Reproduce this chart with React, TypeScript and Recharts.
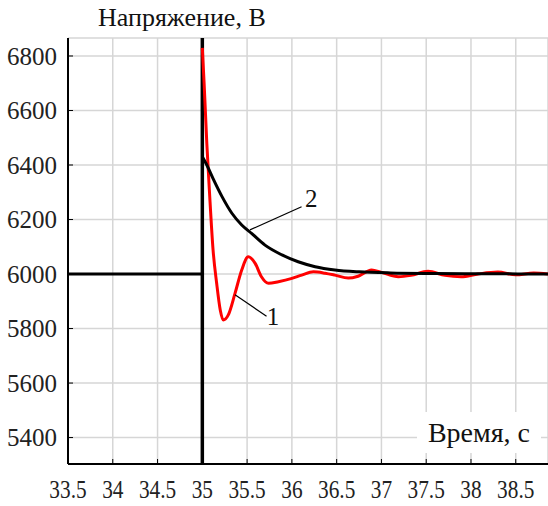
import { LineChart, Line, XAxis, YAxis, CartesianGrid, ReferenceLine, ReferenceDot } from 'recharts';

const FONT = 'Liberation Serif';

const xTicks = [33.5, 34, 34.5, 35, 35.5, 36, 36.5, 37, 37.5, 38, 38.5];
const yTicks = [5400, 5600, 5800, 6000, 6200, 6400, 6600, 6800];

// curve 1 (red) - voltage with oscillations
const time1 = [35.0, 35.02, 35.05, 35.08, 35.12, 35.16, 35.2, 35.234, 35.29, 35.365, 35.44, 35.513, 35.59, 35.66, 35.74, 35.85, 36.0, 36.11, 36.24, 36.37, 36.48, 36.63, 36.74, 36.89, 37.0, 37.19, 37.33, 37.52, 37.71, 37.89, 38.08, 38.3, 38.5, 38.7, 38.86];
const volt1 = [6830, 6700, 6480, 6300, 6088, 5966, 5868, 5831, 5850, 5929, 6015, 6063, 6039, 5990, 5966, 5972, 5984, 5996, 6008, 6003, 5996, 5985, 5992, 6015, 6006, 5990, 5995, 6010, 5995, 5990, 6000, 6007, 5997, 6004, 6000];

// curve 2 (black) - smooth decay
const time2 = [35.0, 35.05, 35.12, 35.22, 35.33, 35.44, 35.55, 35.7, 35.89, 36.07, 36.26, 36.48, 36.75, 37.1, 37.6, 38.2, 38.86];
const volt2 = [6430, 6400, 6350, 6284, 6223, 6180, 6149, 6106, 6070, 6045, 6027, 6015, 6008, 6004, 6002, 6001, 6000];

// level before switching
const time0 = [33.5, 35.0];
const volt0 = [6000, 6000];

const curve1 = time1.map((t, i) => ({ t, v: volt1[i] }));
const curve2 = time2.map((t, i) => ({ t, v: volt2[i] }));
const before = time0.map((t, i) => ({ t, v: volt0[i] }));

const XTick = (props: any) => {
  const { x, y, payload } = props;
  return (
    <g transform={`translate(${x},${y})`}>
      <text transform="scale(0.82,1)" textAnchor="middle" dy="0.71em" fontSize={26} fill="#222" fontFamily={FONT}>
        {payload.value}
      </text>
    </g>
  );
};

export default function App() {
  return (
    <div style={{ position: 'absolute', left: 0, top: 0, width: 548, height: 506, background: '#fff' }}>
      <div style={{ position: 'absolute', left: 98, top: 3, fontFamily: FONT, fontSize: 26, color: '#111', lineHeight: '30px' }}>
        Напряжение, В
      </div>
      <LineChart width={548} height={506} margin={{ top: 38, right: 0, bottom: 0, left: 8 }}>
        <CartesianGrid stroke="#d6d6d6" strokeWidth={1.5} />
        <XAxis
          dataKey="t"
          type="number"
          domain={[33.5, 38.86]}
          ticks={xTicks}
          allowDataOverflow
          height={42}
          tickSize={-5}
          tickMargin={21}
          tick={XTick}
          tickLine={{ stroke: '#000' }}
          axisLine={{ stroke: '#000', strokeWidth: 2 }}
        />
        <XAxis
          xAxisId="top"
          orientation="top"
          dataKey="t"
          type="number"
          domain={[33.5, 38.86]}
          ticks={xTicks}
          allowDataOverflow
          height={0}
          tickSize={-5}
          tick={() => null}
          tickLine={{ stroke: '#000' }}
          axisLine={{ stroke: '#000', strokeWidth: 2 }}
        />
        <YAxis
          type="number"
          domain={[5303, 6866]}
          ticks={yTicks}
          allowDataOverflow
          width={60}
          tickSize={-5}
          tickMargin={16}
          tick={{ fontSize: 25, fill: '#222', fontFamily: FONT }}
          tickLine={{ stroke: '#000' }}
          axisLine={{ stroke: '#000', strokeWidth: 2 }}
        />
        <ReferenceLine x={35} stroke="#000" strokeWidth={3.5} />
        <Line data={before} dataKey="v" type="linear" stroke="#000" strokeWidth={3} dot={false} isAnimationActive={false} />
        <Line data={curve1} dataKey="v" type="monotone" stroke="#ff0000" strokeWidth={3} dot={false} isAnimationActive={false} />
        <Line data={curve2} dataKey="v" type="monotone" stroke="#000" strokeWidth={3} dot={false} isAnimationActive={false} />
        <ReferenceLine segment={[{ x: 35.532, y: 6162 }, { x: 36.108, y: 6247 }]} stroke="#000" strokeWidth={1.2} />
        <ReferenceLine segment={[{ x: 35.365, y: 5924 }, { x: 35.717, y: 5845 }]} stroke="#000" strokeWidth={1.2} />
        <ReferenceDot x={36.216} y={6278} r={1} fill="none" stroke="none"
          label={{ value: '2', position: 'center', fontSize: 25, fill: '#111', fontFamily: FONT }} />
        <ReferenceDot x={35.79} y={5846} r={1} fill="none" stroke="none"
          label={{ value: '1', position: 'center', fontSize: 25, fill: '#111', fontFamily: FONT }} />
      </LineChart>
      <div style={{ position: 'absolute', left: 417, top: 412, width: 124, height: 41, background: '#fff', fontFamily: FONT, fontSize: 28, color: '#111', lineHeight: '41px', textAlign: 'center' }}>
        Время, с
      </div>
    </div>
  );
}
